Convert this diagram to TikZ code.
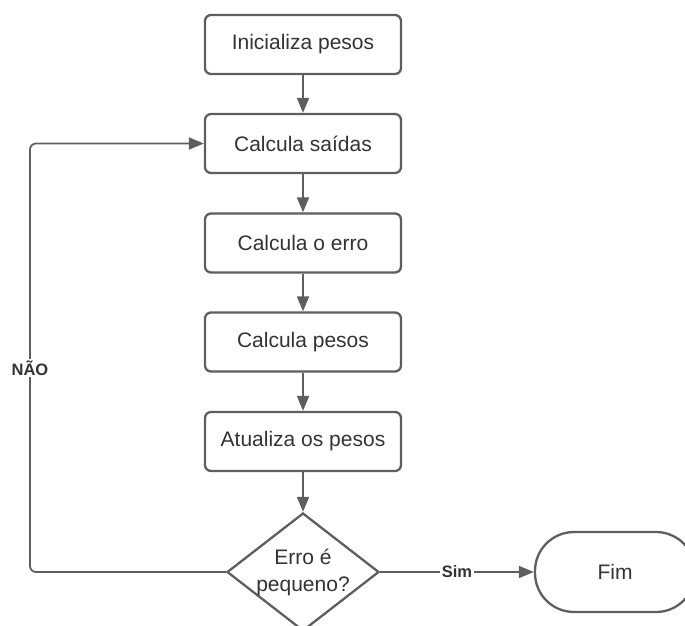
\documentclass[tikz,border=0pt]{standalone}
\usepackage{fontspec}
\setmainfont{Liberation Sans}
\usetikzlibrary{arrows.meta,shapes.geometric}
\definecolor{strk}{HTML}{5E5E5E}
\definecolor{txt}{HTML}{333333}
\tikzset{
  procbox/.style={draw=strk, line width=2.3pt, rounded corners=6pt, minimum width=196pt, minimum height=59pt, inner sep=0pt, text=txt, font=\fontsize{21}{27}\selectfont},
  decbox/.style={diamond, draw=strk, line width=2.3pt, minimum width=152pt, minimum height=118pt, inner sep=0pt},
  endbox/.style={draw=strk, line width=2.3pt, rounded corners=39pt, minimum width=160pt, minimum height=80pt, inner sep=0pt, text=txt, font=\fontsize{21}{27}\selectfont},
  plaintext/.style={text=txt, font=\fontsize{21}{27}\selectfont, align=center, inner sep=0pt},
  conn/.style={draw=strk, line width=1.8pt, -{Triangle[length=15pt,width=12pt]}},
  lbl/.style={fill=white, text=txt, font=\bfseries\fontsize{16.5}{19}\selectfont, inner sep=2pt},
}
\begin{document}
\begin{tikzpicture}[x=1pt,y=-1pt]
\useasboundingbox (0,0) rectangle (685,625);
\clip (0,0) rectangle (685,625);
\node[procbox] (b1) at (303,44.5) {Inicializa pesos};
\node[procbox] (b2) at (303,143.5) {Calcula saídas};
\node[procbox] (b3) at (303,243) {Calcula o erro};
\node[procbox] (b4) at (303,342) {Calcula pesos};
\node[procbox] (b5) at (303,441.5) {Atualiza os pesos};
\node[decbox] (d) at (303,572) {};
\node[plaintext] (dt) at (d.center) {Erro é\\pequeno?};
\node[endbox] (fim) at (615,572) {Fim};
\coordinate (lp) at (30,572);
\draw[conn] (b1) -- (b2);
\draw[conn] (b2) -- (b3);
\draw[conn] (b3) -- (b4);
\draw[conn] (b4) -- (b5);
\draw[conn] (b5) -- (d.north);
\draw[conn] (d.east) -- node[lbl] (sim) {Sim} (fim.west);
\draw[conn, rounded corners=6pt] (d.west) -- (lp) |- (b2.west);
\node[lbl] (nao) at (30,368) {NÃO};
\end{tikzpicture}
\end{document}
